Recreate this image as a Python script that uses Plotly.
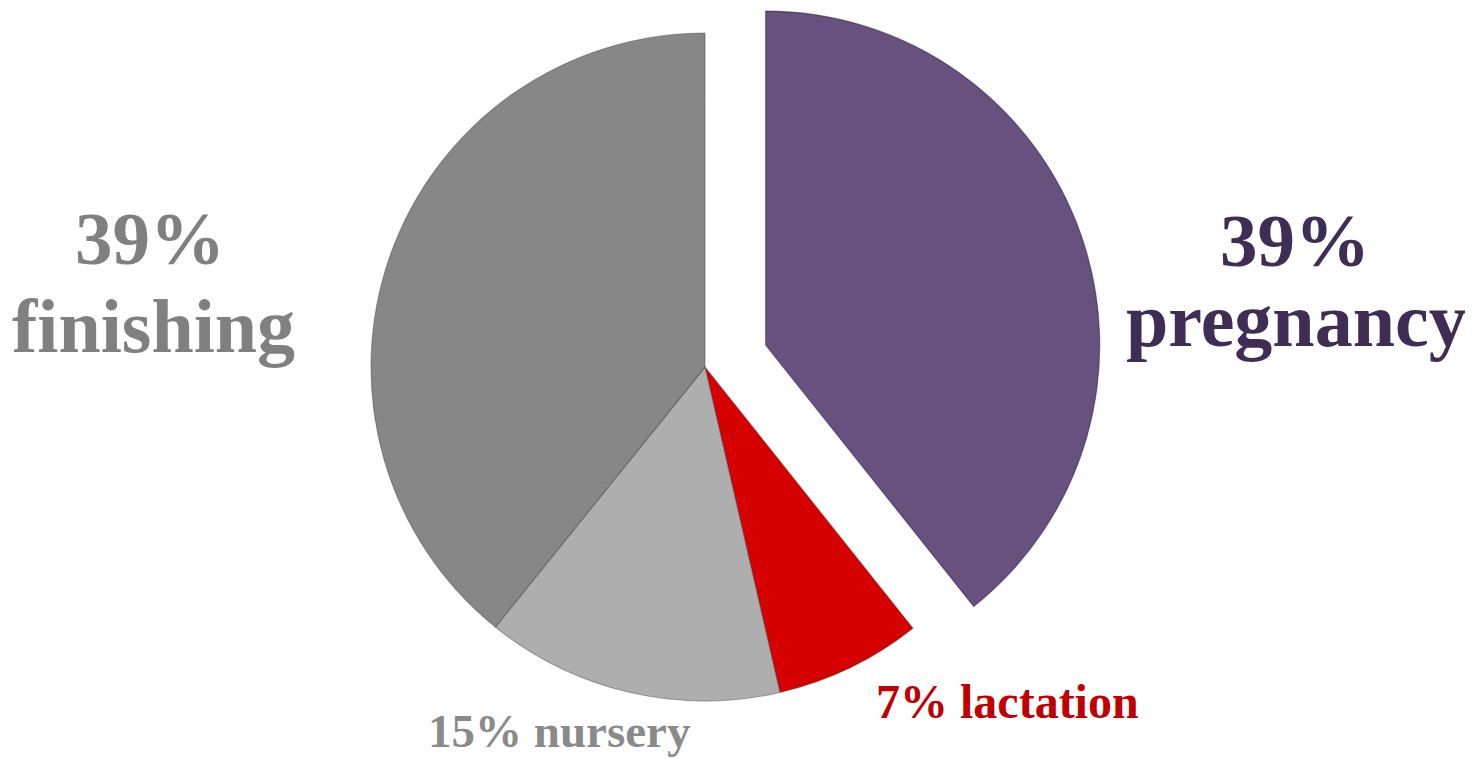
import plotly.graph_objects as go

# ---- data ----
categories = ["pregnancy", "lactation", "nursery", "finishing"]
values = [39.3, 7.1, 14.4, 39.2]          # slice sizes as drawn
label_pcts = [39, 7, 15, 39]              # percentages printed on the chart
slice_colors = ["#68507f", "#d70000", "#aeaeae", "#878787"]
text_colors = ["#3f2d55", "#c00000", "#8a8a8a", "#808080"]
pulled = "pregnancy"

# page has an 8px body margin: figure fills the rest of the window
OFF = 8
W, H = 1473 - OFF, 759 - OFF
# main pie geometry (screen pixels)
cx, cy, r = 705.0, 367.0, 334.0
# pulled slice offset (pixels)
pdx, pdy = 60.7, -21.9


def dom(cx_, cy_, r_):
    cx_ -= OFF
    cy_ -= OFF
    return dict(x=[(cx_ - r_) / W, (cx_ + r_) / W],
                y=[(H - (cy_ + r_)) / H, (H - (cy_ - r_)) / H])


TRANS = "rgba(0,0,0,0)"
base_cols = [TRANS if c == pulled else col for c, col in zip(categories, slice_colors)]
pull_cols = [col if c == pulled else TRANS for c, col in zip(categories, slice_colors)]
base_line = [TRANS if c == pulled else "rgba(60,60,60,0.4)" for c in categories]
pull_line = ["rgba(50,30,70,0.55)" if c == pulled else TRANS for c in categories]

fig = go.Figure()
fig.add_trace(go.Pie(labels=categories, values=values, sort=False,
                     direction="clockwise", rotation=0,
                     marker=dict(colors=base_cols, line=dict(color=base_line, width=1.2)),
                     textinfo="none", hoverinfo="label",
                     domain=dom(cx, cy, r), showlegend=False))
fig.add_trace(go.Pie(labels=categories, values=values, sort=False,
                     direction="clockwise", rotation=0,
                     marker=dict(colors=pull_cols, line=dict(color=pull_line, width=1.2)),
                     textinfo="none", hoverinfo="label",
                     domain=dom(cx + pdx, cy + pdy, r), showlegend=False))

FONT = "Liberation Serif, Times New Roman, serif"
idx = {c: i for i, c in enumerate(categories)}


def ann(text, xpx, ypx, size, color):
    xpx -= OFF
    ypx -= OFF
    fig.add_annotation(text=f"<b>{text}</b>", x=xpx / W, y=(H - ypx) / H,
                       xref="paper", yref="paper", showarrow=False,
                       xanchor="center", yanchor="middle",
                       font=dict(family=FONT, size=size, color=color))


i = idx["finishing"]
ann(f"{label_pcts[i]}%", 150, 238, 75, text_colors[i])
ann(categories[i], 153, 326, 76, text_colors[i])
i = idx["pregnancy"]
ann(f"{label_pcts[i]}%", 1295, 241, 75, text_colors[i])
ann(categories[i], 1296, 320, 76, text_colors[i])
i = idx["nursery"]
ann(f"{label_pcts[i]}% {categories[i]}", 559, 731, 47, text_colors[i])
i = idx["lactation"]
ann(f"{label_pcts[i]}% {categories[i]}", 1007, 701, 48, text_colors[i])

fig.update_layout(width=W, height=H, margin=dict(l=0, r=0, t=0, b=0),
                  paper_bgcolor="white", plot_bgcolor="white")
fig.write_html("out.html")
